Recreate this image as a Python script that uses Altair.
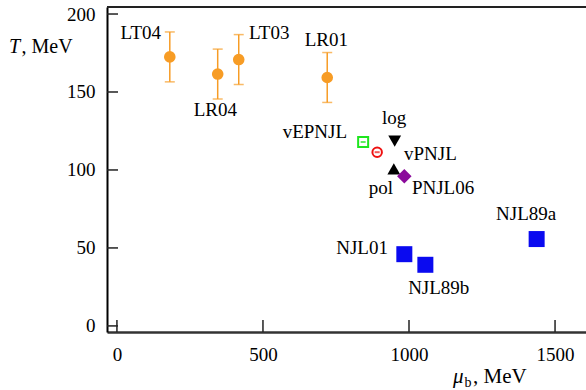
import altair as alt
import pandas as pd

# ---- data ----
# lattice results (orange dots with error bars)
lat_names = ["LT04", "LR04", "LT03", "LR01"]
lat_mu = [181, 345, 417, 720]
lat_T = [172.5, 161.5, 170.8, 159.3]
lat_err = [16, 16, 16, 16]

# model results
mod_names = ["vEPNJL", "vPNJL", "log", "pol", "PNJL06", "NJL01", "NJL89b", "NJL89a"]
mod_mu = [843, 891, 951, 948, 984, 984, 1056, 1437]
mod_T = [118, 111.4, 118.5, 100.7, 96, 46, 39.2, 55.7]

# point labels (anchor in data units)
label_text = ["LT04", "LR04", "LT03", "LR01", "vEPNJL", "log", "vPNJL", "pol",
              "PNJL06", "NJL89a", "NJL01", "NJL89b"]
label_mu = [151, 337, 452, 717, 788, 949, 983, 904, 1010, 1401, 928, 997]
label_T = [183.8, 134.5, 184.2, 179.5, 120.8, 129.6, 106.2, 84.8, 84.8, 67.7, 46.3, 20.6]
label_align = ["right", "center", "left", "center", "right", "center", "left",
               "center", "left", "center", "right", "left"]

x_ticks = [0, 500, 1000, 1500]
y_ticks = [0, 50, 100, 150, 200]

W, H = 479, 325
FONT = "'Liberation Serif', 'Times New Roman', Tinos, 'DejaVu Serif', serif"
ORANGE = "#F79C25"

lat = pd.DataFrame({"name": lat_names, "mu": lat_mu, "T": lat_T, "err": lat_err})
lat["lo"] = lat["T"] - lat["err"]
lat["hi"] = lat["T"] + lat["err"]
mod = pd.DataFrame({"name": mod_names, "mu": mod_mu, "T": mod_T})
labels = pd.DataFrame({"text": label_text, "mu": label_mu, "T": label_T, "align": label_align})

xs = alt.Scale(domain=[-34, 1606], nice=False, zero=False)
ys = alt.Scale(domain=[-3.9, 204.5], nice=False, zero=False)
xaxis = alt.Axis(values=x_ticks, title=None, grid=False, ticks=False, labelFont=FONT,
                 labelFontSize=19, labelColor="black", labelPadding=13,
                 domainColor="#333333", domainWidth=2.5, format="d", labelFlush=False)
yaxis = alt.Axis(values=y_ticks, title=None, grid=False, ticks=False, labelFont=FONT,
                 labelFontSize=19, labelColor="black", labelPadding=12,
                 domainColor="black", domainWidth=2, format="d", labelFlush=False)


def X(field="mu"):
    return alt.X(f"{field}:Q", scale=xs, axis=xaxis)


def Y(field="T"):
    return alt.Y(f"{field}:Q", scale=ys, axis=yaxis)


# inward ticks
xt = alt.Chart(pd.DataFrame({"mu": x_ticks})).mark_rule(color="#222", strokeWidth=1.5).encode(
    x=X(), y=alt.value(H), y2=alt.value(H - 12))
yt = alt.Chart(pd.DataFrame({"T": y_ticks})).mark_rule(color="#222", strokeWidth=1.5).encode(
    y=Y(), x=alt.value(0), x2=alt.value(11))
top = alt.Chart(pd.DataFrame({"a": [0]})).mark_rule(color="#222", strokeWidth=2).encode(
    x=alt.value(0), x2=alt.value(W), y=alt.value(0))

lat_base = alt.Chart(lat)
err = lat_base.mark_rule(color=ORANGE, strokeWidth=1.5).encode(x=X(), y=Y("lo"), y2="hi:Q")
cap_lo = lat_base.mark_tick(color=ORANGE, orient="horizontal", size=10, thickness=1.5).encode(x=X(), y=Y("lo"))
cap_hi = lat_base.mark_tick(color=ORANGE, orient="horizontal", size=10, thickness=1.5).encode(x=X(), y=Y("hi"))
dots = lat_base.mark_point(shape="circle", filled=True, color=ORANGE, opacity=1, size=135).encode(x=X(), y=Y())

mb = alt.Chart(mod)


def pick(names):
    return alt.FieldOneOfPredicate(field="name", oneOf=names)


green = mb.transform_filter(pick(["vEPNJL"])).mark_point(
    shape="square", filled=False, color="#1EE61E", strokeWidth=2, size=100, opacity=1).encode(x=X(), y=Y())
green_m = mb.transform_filter(pick(["vEPNJL"])).mark_tick(
    orient="horizontal", color="#1EE61E", size=5, thickness=2).encode(x=X(), y=Y())
red = mb.transform_filter(pick(["vPNJL"])).mark_point(
    shape="circle", filled=False, color="#EE1111", strokeWidth=2, size=90, opacity=1).encode(x=X(), y=Y())
red_m = mb.transform_filter(pick(["vPNJL"])).mark_tick(
    orient="horizontal", color="#EE1111", size=5, thickness=2).encode(x=X(), y=Y())
tri_d = mb.transform_filter(pick(["log"])).mark_point(
    shape="triangle-down", filled=True, color="black", size=165, opacity=1).encode(x=X(), y=Y())
tri_u = mb.transform_filter(pick(["pol"])).mark_point(
    shape="triangle-up", filled=True, color="black", size=165, opacity=1).encode(x=X(), y=Y())
diam = mb.transform_filter(pick(["PNJL06"])).mark_point(
    shape="diamond", filled=True, color="#8B0A9B", size=210, opacity=1).encode(x=X(), y=Y())
blue = mb.transform_filter(pick(["NJL01", "NJL89b", "NJL89a"])).mark_point(
    shape="square", filled=True, color="#0A0AF0", size=256, opacity=1).encode(x=X(), y=Y())

lb = alt.Chart(labels)
text_layers = []
for al in ["left", "center", "right"]:
    text_layers.append(
        lb.transform_filter(alt.FieldEqualPredicate(field="align", equal=al)).mark_text(
            font=FONT, fontSize=19, color="black", align=al, baseline="alphabetic").encode(
            x=X(), y=Y(), text="text:N"))

# axis titles
titles = [
    alt.Chart(pd.DataFrame({"t": ["T"]})).mark_text(
        font=FONT, fontSize=20, fontStyle="italic", align="left", baseline="alphabetic").encode(
        x=alt.value(9 - 107), y=alt.value(53 - 7), text="t:N"),
    alt.Chart(pd.DataFrame({"t": [", MeV"]})).mark_text(
        font=FONT, fontSize=20, align="left", baseline="alphabetic").encode(
        x=alt.value(21.5 - 107), y=alt.value(53 - 7), text="t:N"),
    alt.Chart(pd.DataFrame({"t": ["μ"]})).mark_text(
        font=FONT, fontSize=21, fontStyle="italic", align="left", baseline="alphabetic").encode(
        x=alt.value(453 - 107), y=alt.value(383 - 7), text="t:N"),
    alt.Chart(pd.DataFrame({"t": ["b"]})).mark_text(
        font=FONT, fontSize=14, align="left", baseline="alphabetic").encode(
        x=alt.value(464.5 - 107), y=alt.value(387 - 7), text="t:N"),
    alt.Chart(pd.DataFrame({"t": [", MeV"]})).mark_text(
        font=FONT, fontSize=21, align="left", baseline="alphabetic").encode(
        x=alt.value(473 - 107), y=alt.value(383 - 7), text="t:N"),
]

chart = alt.layer(
    xt, yt, top, err, cap_lo, cap_hi, dots, green, green_m, red, red_m,
    tri_d, tri_u, diam, blue, *text_layers, *titles
).properties(
    width=W, height=H,
    autosize=alt.AutoSizeParams(type="none"),
    padding={"left": 107, "top": 7, "right": 0, "bottom": 58},
).configure_view(stroke=None).configure(background="white")

chart.save("out.html", embed_options={"renderer": "svg", "actions": False})
